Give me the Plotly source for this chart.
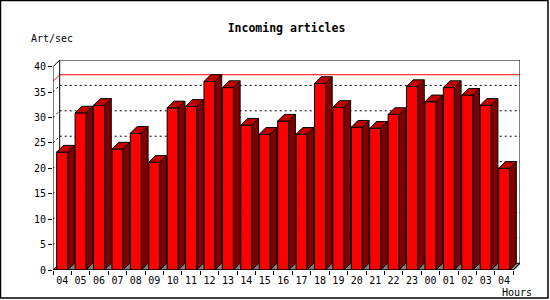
import plotly.graph_objects as go

# ---- data ----
hours = ["04", "05", "06", "07", "08", "09", "10", "11", "12", "13", "14", "15",
         "16", "17", "18", "19", "20", "21", "22", "23", "00", "01", "02", "03", "04"]
values = [23.2, 30.9, 32.4, 23.8, 26.9, 21.2, 31.9, 32.2, 37.1, 35.9, 28.5, 26.7,
          29.3, 26.7, 36.7, 32.0, 28.1, 27.9, 30.6, 36.1, 33.1, 35.9, 34.4, 32.4, 20.0]
y_ticks = [0, 5, 10, 15, 20, 25, 30, 35, 40]
title_text = "Incoming articles"
y_title = "Art/sec"
x_title = "Hours"

# ---- layout geometry ----
W, H = 550, 300
L, T, PW, PH = 53, 60, 467, 210
YMAX = 40
n = len(values)
half = 0.3            # half width of bar front
dx = 0.364            # depth offset (category units)
dy = 1.32             # depth offset (value units)
x_lo, x_hi = -0.5, n - 0.5

FONT = "DejaVu Sans Mono"

def px(xp):
    return (xp - L) / PW

def py(yp):
    return (T + PH - yp) / PH

xs = list(range(n))

fig = go.Figure()

# front faces
fig.add_trace(go.Bar(x=xs, y=values, width=2 * half,
                     marker=dict(color="#FF0000", line=dict(color="black", width=1)),
                     hoverinfo="skip", showlegend=False))

# side faces
sx, sy = [], []
for i, v in zip(xs, values):
    sx += [i + half, i + half + dx, i + half + dx, i + half, i + half, None]
    sy += [0, dy, v + dy, v, 0, None]
fig.add_trace(go.Scatter(x=sx, y=sy, mode="lines", fill="toself", fillcolor="#800000",
                         line=dict(color="black", width=1), hoverinfo="skip", showlegend=False))

# top faces
tx, ty = [], []
for i, v in zip(xs, values):
    tx += [i - half, i - half + dx, i + half + dx, i + half, i - half, None]
    ty += [v, v + dy, v + dy, v, v, None]
fig.add_trace(go.Scatter(x=tx, y=ty, mode="lines", fill="toself", fillcolor="#C00000",
                         line=dict(color="black", width=1), hoverinfo="skip", showlegend=False))

shapes = []
# floor
shapes.append(dict(type="path", layer="below",
                   path=f"M {x_lo},0 L {x_hi},0 L {x_hi+dx},{dy} L {x_lo+dx},{dy} Z",
                   fillcolor="#808080", line=dict(color="black", width=1)))
# back wall gridlines (dotted)
for g in y_ticks[1:-1]:
    shapes.append(dict(type="line", layer="below", x0=x_lo, y0=g, x1=x_lo + dx, y1=g + dy,
                       line=dict(color="black", width=1, dash="2px,3px")))
    shapes.append(dict(type="line", layer="below", x0=x_lo + dx, y0=g + dy, x1=x_hi + dx, y1=g + dy,
                       line=dict(color="black", width=1, dash="2px,3px")))
# max line (red)
vmax = max(values)
shapes.append(dict(type="line", layer="below", x0=x_lo, y0=vmax, x1=x_lo + dx, y1=vmax + dy,
                   line=dict(color="#FF0000", width=1)))
shapes.append(dict(type="line", layer="below", x0=x_lo + dx, y0=vmax + dy, x1=x_hi + dx, y1=vmax + dy,
                   line=dict(color="#FF0000", width=1)))
# back wall left edge
shapes.append(dict(type="line", layer="below", x0=x_lo + dx, y0=dy, x1=x_lo + dx, y1=YMAX + dy,
                   line=dict(color="black", width=1)))
# frame (front axes and back box)
frame_pts = [(x_lo, 0), (x_lo, YMAX), (x_lo + dx, YMAX + dy), (x_hi + dx, YMAX + dy),
             (x_hi + dx, dy), (x_hi, 0), (x_lo, 0)]
for (a, b), (c, d) in zip(frame_pts[:-1], frame_pts[1:]):
    shapes.append(dict(type="line", x0=a, y0=b, x1=c, y1=d, line=dict(color="black", width=1)))
# outer border
shapes.append(dict(type="rect", xref="paper", yref="paper",
                   x0=px(0.5), x1=px(548), y0=py(298), y1=py(0.5),
                   line=dict(color="black", width=1.5)))

fig.update_layout(
    width=W, height=H,
    margin=dict(l=L, r=W - L - PW, t=T, b=H - T - PH),
    paper_bgcolor="white", plot_bgcolor="white",
    barmode="overlay",
    shapes=shapes,
    title=dict(text=f"<b>{title_text}</b>", x=0.5, xref="paper", xanchor="center",
               y=1 - 28 / H, yref="container", yanchor="middle",
               font=dict(family=FONT, size=11.5, color="black")),
    font=dict(family=FONT, size=10, color="black"),
    xaxis=dict(range=[x_lo, x_hi + dx], tickvals=xs, ticktext=hours, ticks="outside",
               ticklen=1, tickcolor="rgba(0,0,0,0)", showgrid=False, zeroline=False,
               showline=False, tickfont=dict(family=FONT, size=10, color="black")),
    xaxis2=dict(range=[x_lo, x_hi + dx], overlaying="x", side="bottom", anchor="y",
                tickvals=[i - 0.5 for i in range(n + 1)], ticks="outside", ticklen=4,
                tickcolor="black", showticklabels=False, showgrid=False, zeroline=False,
                showline=False),
    yaxis=dict(range=[0, YMAX + dy], tickvals=y_ticks, ticks="outside", ticklen=4,
               tickcolor="black", showgrid=False, zeroline=False, showline=False,
               tickfont=dict(family=FONT, size=10, color="black")),
    annotations=[
        dict(text=y_title, xref="paper", yref="paper", x=px(29), y=py(39),
             xanchor="left", yanchor="middle", showarrow=False,
             font=dict(family=FONT, size=10, color="black")),
        dict(text=x_title, xref="paper", yref="paper", x=px(534), y=py(292),
             xanchor="right", yanchor="middle", showarrow=False,
             font=dict(family=FONT, size=10, color="black")),
    ],
)
# invisible trace to activate xaxis2
fig.add_trace(go.Scatter(x=[x_lo], y=[0], xaxis="x2", mode="markers",
                         marker=dict(opacity=0), hoverinfo="skip", showlegend=False))

fig.write_html("out.html")
